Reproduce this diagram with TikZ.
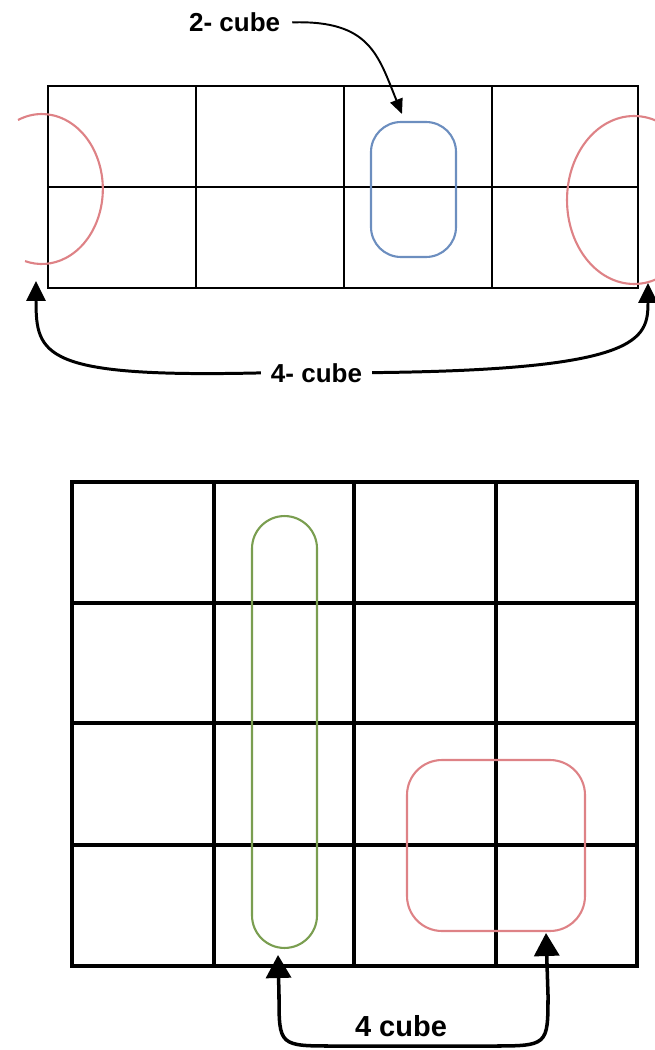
\documentclass[tikz,border=0pt]{standalone}
\usepackage{fontspec}
\setsansfont{Liberation Sans}
\usepackage{xcolor}
\usepackage{tikz}
\usetikzlibrary{shapes.geometric, arrows.meta, positioning}

\definecolor{cubered}{HTML}{DE8286}
\definecolor{cubeblue}{HTML}{6C8EBF}
\definecolor{cubegreen}{HTML}{7A9E50}

\begin{document}
\begin{tikzpicture}[
    x=0.02cm, y=-0.02cm,
    thingrid/.style={black, line width=0.6pt},
    thickgrid/.style={black, line width=2pt},
    cubelabel/.style={font=\sffamily\bfseries\fontsize{14.8}{18}\selectfont, inner sep=1pt},
    biglabel/.style={font=\sffamily\bfseries\fontsize{16.5}{20}\selectfont, inner sep=1pt},
    group/.style={rectangle, draw=#1, line width=1.2pt, inner sep=0pt},
    smallarrow/.style={-{Triangle[width=0.26cm, length=0.3cm]}, line width=1.1pt, shorten <=0.2cm},
    arrow/.style={-{Triangle[width=0.38cm, length=0.4cm]}, line width=1.7pt, shorten <=0.16cm},
    bigarrow/.style={{Triangle[width=0.5cm, length=0.46cm]}-{Triangle[width=0.5cm, length=0.46cm]}, line width=2pt}
]
\useasboundingbox (0,0) rectangle (654,1050);

% Upper map: 2 x 4, thin lines
\draw[thingrid] (48,86) rectangle (638,288);
\foreach \x in {196,344,492}
    \draw[thingrid] (\x,86) -- (\x,288);
\draw[thingrid] (48,187) -- (638,187);

% Groups on the upper map
\node[group=cubeblue, rounded corners=0.6cm, minimum width=1.7cm, minimum height=2.7cm] (pair) at (413.5,189.5) {};
\draw[cubered, line width=1.2pt] (18,120) arc[start angle=113, end angle=-106, x radius=1.22cm, y radius=1.5cm]
    coordinate (wrapleft);
\node[ellipse, draw=cubered, line width=1.2pt, inner sep=0pt, minimum width=2.68cm, minimum height=3.36cm] (wrapright) at (634,200) {};

% Labels and arrows of the upper map
\node[cubelabel, anchor=base west] (twocube) at (187,32) {2- cube};
\coordinate (pairtip) at (402,114);
\draw[smallarrow] (twocube.east) .. controls (370,20) and (378,55) .. (pairtip);

\node[cubelabel, anchor=base] (fourcube) at (316.5,382) {4- cube};
\coordinate (lefttip) at (36,281);
\coordinate (righttip) at (648,283);
\draw[arrow] (fourcube.west) .. controls (42,378) and (36,355) .. (lefttip);
\draw[arrow] (fourcube.east) .. controls (640,370) and (648,340) .. (righttip);

% Lower map: 4 x 4, thick lines
\draw[thickgrid] (72,482) rectangle (637,966);
\foreach \x in {214,354,496}
    \draw[thickgrid] (\x,482) -- (\x,966);
\foreach \y in {603,723,845}
    \draw[thickgrid] (72,\y) -- (637,\y);

% Groups on the lower map
\node[group=cubegreen, rounded corners=0.65cm, minimum width=1.3cm, minimum height=8.64cm] (column) at (284.5,732) {};
\node[group=cubered, rounded corners=0.7cm, minimum width=3.56cm, minimum height=3.42cm] (square) at (496,845.5) {};

% Label and arrow of the lower map
\node[biglabel, anchor=base] (quad) at (401,1036) {4 cube};
\coordinate (columntip) at (278,955);
\coordinate (squaretip) at (546,933);
\draw[bigarrow] (columntip) -- (279,995) .. controls (279,1046) .. (335,1046)
    -- (490,1046) .. controls (548,1046) .. (548,995) -- (squaretip);

\end{tikzpicture}
\end{document}
